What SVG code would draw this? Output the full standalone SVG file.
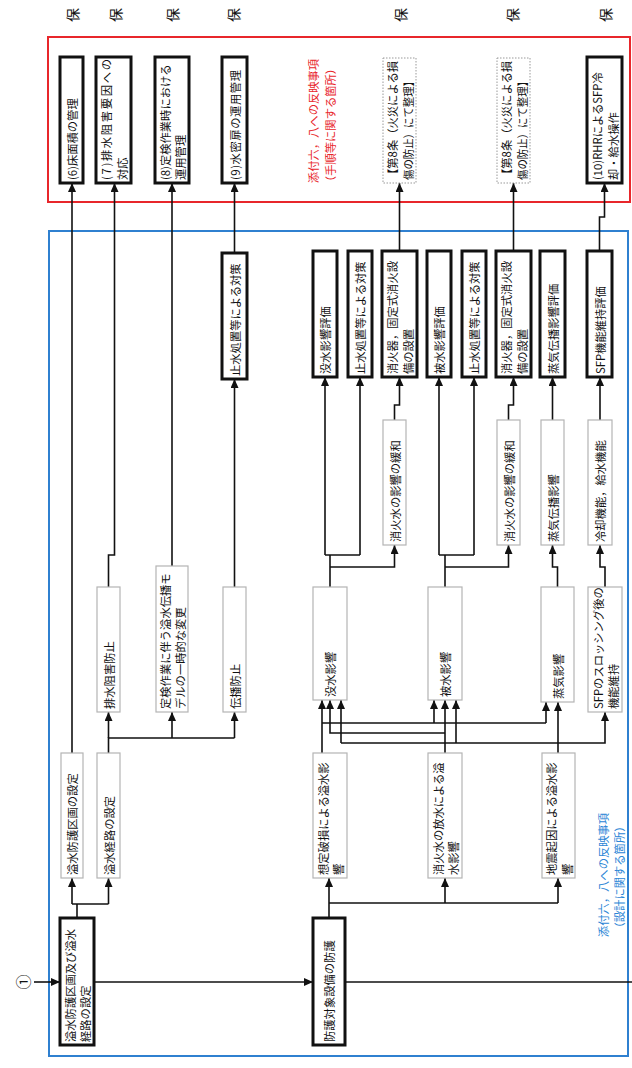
<svg xmlns="http://www.w3.org/2000/svg" width="632" height="1068" viewBox="0 0 632 1068">
<style>
text{font-family:"Noto Sans CJK JP","Noto Sans CJK SC",sans-serif;font-size:11.3px;fill:#111;dominant-baseline:central}
.thk{fill:#fff;stroke:#111;stroke-width:3}
.thn{fill:#fff;stroke:#b4b4b4;stroke-width:1.2}
.dot{fill:#fff;stroke:#999;stroke-width:1;stroke-dasharray:1.5,1.5}
.c path{fill:none;stroke:#111;stroke-width:1.6}
.ho{font-size:14px;text-anchor:middle}
.red{fill:#e8262b;text-anchor:middle}
.blu{fill:#2c86d6;text-anchor:middle}
</style>
<defs>
<marker id="a" viewBox="0 0 10 10" refX="10" refY="5" markerWidth="9" markerHeight="8" preserveAspectRatio="none" orient="auto" markerUnits="userSpaceOnUse"><path d="M0,0 L10,5 L0,10 z" fill="#111"/></marker>
</defs>
<rect width="632" height="1068" fill="#fff"/>

<g id="labels">
<text class="ho" transform="translate(72,15) rotate(-90)">保</text>
<text class="ho" transform="translate(115,15) rotate(-90)">保</text>
<text class="ho" transform="translate(172,15) rotate(-90)">保</text>
<text class="ho" transform="translate(233,15) rotate(-90)">保</text>
<text class="ho" transform="translate(400,15) rotate(-90)">保</text>
<text class="ho" transform="translate(512,15) rotate(-90)">保</text>
<text class="ho" transform="translate(605,15) rotate(-90)">保</text>
<text transform="translate(22,982) rotate(-90)" style="font-size:15px;text-anchor:middle">①</text>
</g>

<g id="regions">
<rect x="48" y="37" width="582" height="165" fill="none" stroke="#e8262b" stroke-width="2"/>
<rect x="49" y="231" width="579" height="825" fill="none" stroke="#2f80d0" stroke-width="2"/>
<text class="red" transform="translate(313,121) rotate(-90)">添付六，八への反映事項</text>
<text class="red" transform="translate(330,125) rotate(-90)">（手順等に関する箇所）</text>
<text class="blu" transform="translate(603,875) rotate(-90)">添付六，八への反映事項</text>
<text class="blu" transform="translate(619,877) rotate(-90)">（設計に関する箇所）</text>
</g>

<g class="c" id="connectors">
<path d="M72,753 V183" marker-end="url(#a)"/>
<path d="M108.5,587 V555 H114.5 V183" marker-end="url(#a)"/>
<path d="M172,566 V183" marker-end="url(#a)"/>
<path d="M234.5,253 V183" marker-end="url(#a)"/>
<path d="M234.5,587 V379" marker-end="url(#a)"/>
<path d="M399.5,251 V183" marker-end="url(#a)"/>
<path d="M513.5,251 V183" marker-end="url(#a)"/>
<path d="M599.5,251 V217 H604.5 V183" marker-end="url(#a)"/>

<path d="M330,587 V555"/>
<path d="M325,555 H360"/>
<path d="M325,555 V377" marker-end="url(#a)"/>
<path d="M360,555 V377" marker-end="url(#a)"/>
<path d="M330,567 H394.5 V545" marker-end="url(#a)"/>
<path d="M394.5,420 V405 H399.5 V377" marker-end="url(#a)"/>

<path d="M445,587 V555"/>
<path d="M439,555 H474"/>
<path d="M439,555 V377" marker-end="url(#a)"/>
<path d="M474,555 V377" marker-end="url(#a)"/>
<path d="M445,567 H508.5 V545" marker-end="url(#a)"/>
<path d="M508.5,420 V405 H513.5 V377" marker-end="url(#a)"/>

<path d="M557.5,587 V567 H552.5 V545" marker-end="url(#a)"/>
<path d="M552.5,420 V377" marker-end="url(#a)"/>
<path d="M605,587 V567 H600 V545" marker-end="url(#a)"/>
<path d="M600,420 V377" marker-end="url(#a)"/>

<path d="M108.5,753 V738 H234.5"/>
<path d="M108.5,738 V712" marker-end="url(#a)"/>
<path d="M172,738 V712" marker-end="url(#a)"/>
<path d="M234.5,738 V712" marker-end="url(#a)"/>

<path d="M322,753 V700" marker-end="url(#a)"/>
<path d="M322,723 H546"/>
<path d="M434,723 V700" marker-end="url(#a)"/>
<path d="M546,723 V702" marker-end="url(#a)"/>

<path d="M445,753 V700" marker-end="url(#a)"/>
<path d="M445,733 H330 V700" marker-end="url(#a)"/>

<path d="M558,753 V702" marker-end="url(#a)"/>
<path d="M341,743 H605 V712" marker-end="url(#a)"/>
<path d="M341,743 V700" marker-end="url(#a)"/>
<path d="M456,743 V700" marker-end="url(#a)"/>

<path d="M34,982 H60" marker-end="url(#a)"/>
<path d="M94,982 H313" marker-end="url(#a)"/>
<path d="M345,982 H632"/>

<path d="M77,918 V904"/>
<path d="M72,904 H108.5"/>
<path d="M72,904 V878" marker-end="url(#a)"/>
<path d="M108.5,904 V878" marker-end="url(#a)"/>

<path d="M329,918 V878" marker-end="url(#a)"/>
<path d="M329,903 H558"/>
<path d="M445,903 V878" marker-end="url(#a)"/>
<path d="M558,903 V878" marker-end="url(#a)"/>
</g>

<g id="n6"><rect class="thk" x="60" y="57" width="23" height="126"/><text transform="translate(71.5,180) rotate(-90)">(6)床面積の管理</text></g>
<g id="n7"><rect class="thk" x="96" y="57" width="35" height="126"/><text transform="translate(106,180) rotate(-90)" textLength="121">(7)排水阻害要因への</text><text transform="translate(121.5,180) rotate(-90)">対応</text></g>
<g id="n8"><rect class="thk" x="155" y="57" width="34" height="126"/><text transform="translate(164.5,180) rotate(-90)">(8)定検作業時における</text><text transform="translate(180,180) rotate(-90)">運用管理</text></g>
<g id="n9"><rect class="thk" x="222" y="57" width="25" height="126"/><text transform="translate(234.5,180) rotate(-90)" textLength="110">(9)水密扉の運用管理</text></g>
<g id="f1"><rect class="dot" x="383" y="58" width="33" height="125"/><text transform="translate(392,180) rotate(-90)" textLength="119" lengthAdjust="spacingAndGlyphs">【第8条（火災による損</text><text transform="translate(407.5,180) rotate(-90)" textLength="104" lengthAdjust="spacingAndGlyphs">傷の防止）にて整理】</text></g>
<g id="f2"><rect class="dot" x="497" y="58" width="33" height="125"/><text transform="translate(506,180) rotate(-90)" textLength="119" lengthAdjust="spacingAndGlyphs">【第8条（火災による損</text><text transform="translate(521.5,180) rotate(-90)" textLength="104" lengthAdjust="spacingAndGlyphs">傷の防止）にて整理】</text></g>
<g id="n10"><rect class="thk" x="587" y="57" width="35" height="126"/><text transform="translate(597,180) rotate(-90)">(10)RHRによるSFP冷</text><text transform="translate(612.5,180) rotate(-90)">却・給水操作</text></g>

<g id="t1"><rect class="thk" x="222" y="253" width="25" height="126"/><text transform="translate(234.5,376) rotate(-90)">止水処置等による対策</text></g>
<g id="t2"><rect class="thk" x="313" y="251" width="24" height="126"/><text transform="translate(325,374) rotate(-90)">没水影響評価</text></g>
<g id="t3"><rect class="thk" x="348" y="251" width="24" height="126"/><text transform="translate(360,374) rotate(-90)">止水処置等による対策</text></g>
<g id="t4"><rect class="thk" x="382" y="251" width="35" height="126"/><text transform="translate(392,374) rotate(-90)">消火器，固定式消火設</text><text transform="translate(407.5,374) rotate(-90)">備の設置</text></g>
<g id="t5"><rect class="thk" x="427" y="251" width="24" height="126"/><text transform="translate(439,374) rotate(-90)">被水影響評価</text></g>
<g id="t6"><rect class="thk" x="462" y="251" width="24" height="126"/><text transform="translate(474,374) rotate(-90)">止水処置等による対策</text></g>
<g id="t7"><rect class="thk" x="496" y="251" width="35" height="126"/><text transform="translate(506,374) rotate(-90)">消火器，固定式消火設</text><text transform="translate(521.5,374) rotate(-90)">備の設置</text></g>
<g id="t8"><rect class="thk" x="540" y="251" width="25" height="126"/><text transform="translate(552.5,374) rotate(-90)">蒸気伝播影響評価</text></g>
<g id="t9"><rect class="thk" x="587" y="251" width="25" height="126"/><text transform="translate(599.5,374) rotate(-90)">SFP機能維持評価</text></g>

<g id="s1"><rect class="thn" x="383" y="420" width="23" height="125"/><text transform="translate(394.5,542) rotate(-90)">消火水の影響の緩和</text></g>
<g id="s2"><rect class="thn" x="497" y="420" width="23" height="125"/><text transform="translate(508.5,542) rotate(-90)">消火水の影響の緩和</text></g>
<g id="s3"><rect class="thn" x="541" y="420" width="23" height="125"/><text transform="translate(552.5,542) rotate(-90)">蒸気伝播影響</text></g>
<g id="s4"><rect class="thn" x="588" y="420" width="24" height="125"/><text transform="translate(600,542) rotate(-90)">冷却機能，給水機能</text></g>

<g id="r1"><rect class="thn" x="97" y="587" width="23" height="125"/><text transform="translate(108.5,709) rotate(-90)">排水阻害防止</text></g>
<g id="r2"><rect class="thn" x="156" y="566" width="32" height="146"/><text transform="translate(164.5,709) rotate(-90)">定検作業に伴う溢水伝播モ</text><text transform="translate(180,709) rotate(-90)">デルの一時的な変更</text></g>
<g id="r3"><rect class="thn" x="223" y="587" width="23" height="125"/><text transform="translate(234.5,709) rotate(-90)">伝播防止</text></g>
<g id="r4"><rect class="thn" x="313" y="587" width="34" height="113"/><text transform="translate(330,697) rotate(-90)">没水影響</text></g>
<g id="r5"><rect class="thn" x="428" y="587" width="34" height="113"/><text transform="translate(445,697) rotate(-90)">被水影響</text></g>
<g id="r6"><rect class="thn" x="541" y="587" width="33" height="115"/><text transform="translate(557.5,699) rotate(-90)">蒸気影響</text></g>
<g id="r7"><rect class="thn" x="588" y="587" width="34" height="125"/><text transform="translate(597.5,709) rotate(-90)">SFPのスロッシング後の</text><text transform="translate(613,709) rotate(-90)">機能維持</text></g>

<g id="q1"><rect class="thn" x="61" y="753" width="22" height="125"/><text transform="translate(72,875) rotate(-90)">溢水防護区画の設定</text></g>
<g id="q2"><rect class="thn" x="97" y="753" width="23" height="125"/><text transform="translate(108.5,875) rotate(-90)">溢水経路の設定</text></g>
<g id="q3"><rect class="thn" x="313" y="753" width="34" height="125"/><text transform="translate(322.5,875) rotate(-90)">想定破損による溢水影</text><text transform="translate(338,875) rotate(-90)">響</text></g>
<g id="q4"><rect class="thn" x="428" y="753" width="34" height="125"/><text transform="translate(437.5,875) rotate(-90)">消火水の放水による溢</text><text transform="translate(453,875) rotate(-90)">水影響</text></g>
<g id="q5"><rect class="thn" x="542" y="753" width="33" height="125"/><text transform="translate(551,875) rotate(-90)">地震起因による溢水影</text><text transform="translate(566.5,875) rotate(-90)">響</text></g>

<g id="b1"><rect class="thk" x="60" y="918" width="34" height="127"/><text transform="translate(69.5,1042) rotate(-90)">溢水防護区画及び溢水</text><text transform="translate(85,1042) rotate(-90)">経路の設定</text></g>
<g id="b2"><rect class="thk" x="313" y="918" width="32" height="127"/><text transform="translate(329,1042) rotate(-90)">防護対象設備の防護</text></g>
</svg>
